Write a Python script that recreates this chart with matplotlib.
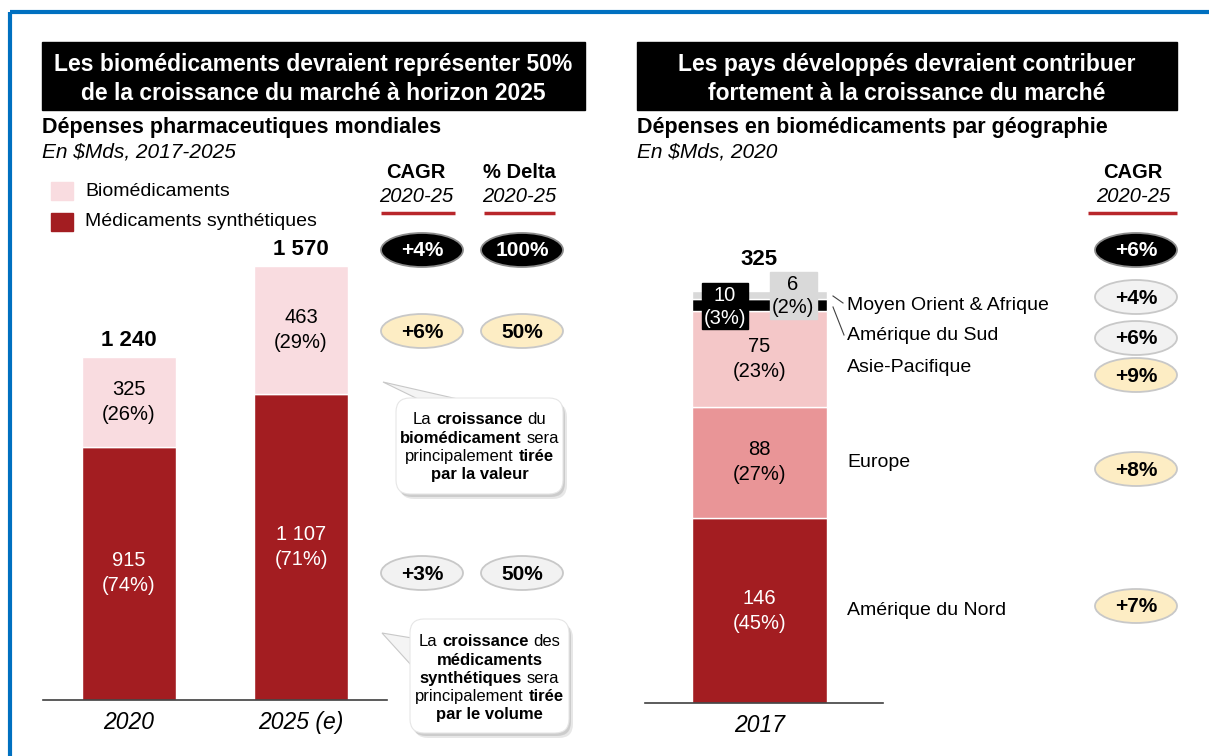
import matplotlib
matplotlib.use("Agg")
import matplotlib.pyplot as plt
from matplotlib.patches import Ellipse, FancyBboxPatch, Polygon, Rectangle
from matplotlib.transforms import blended_transform_factory

plt.rcParams["font.family"] = ["Liberation Sans", "DejaVu Sans"]

# left chart: world pharma spend, $bn
years = ["2020", "2025 (e)"]
synth = [915, 1107]
bio = [325, 463]
synth_pct = [74, 71]
bio_pct = [26, 29]
left_cagr = ["+4%", "+6%", "+3%"]
left_delta = ["100%", "50%", "50%"]

# right chart: biologics spend by region, $bn
region_year = ["2017"]
regions = ["Amérique du Nord", "Europe", "Asie-Pacifique", "Amérique du Sud", "Moyen Orient & Afrique"]
region_val = [146, 88, 75, 10, 6]
region_pct = [45, 27, 23, 3, 2]
right_cagr = ["+6%", "+4%", "+6%", "+9%", "+8%", "+7%"]

DARK_RED = "#A31D21"
BIO_PINK = "#F9DCE0"
region_colors = [DARK_RED, "#E99597", "#F4C7C8", "#000000", "#D9D9D9"]
YELLOW = "#FDEDC4"
LIGHT = "#F2F2F2"

W, H = 1209, 756
fig = plt.figure(figsize=(W / 100, H / 100), dpi=100)

# --- bar axes (pixel-placed) ---
ax1 = fig.add_axes([43 / W, (H - 700) / H, 344 / W, 500 / H])
ax1.set_xlim(-0.5, 1.5)
ax1.set_ylim(0, 500 / 0.2766)
x1 = range(len(years))
ax1.bar(x1, synth, width=0.547, color=DARK_RED, edgecolor="white", linewidth=1)
ax1.bar(x1, bio, bottom=synth, width=0.547, color=BIO_PINK, edgecolor="white", linewidth=1)
for i in x1:
    ax1.text(i, synth[i] / 2, f"{synth[i]:,}".replace(",", " ") + f"\n({synth_pct[i]}%)",
             ha="center", va="center", color="white", fontsize=14.5, linespacing=1.4)
    ax1.text(i, synth[i] + bio[i] / 2, f"{bio[i]}\n({bio_pct[i]}%)",
             ha="center", va="center", color="black", fontsize=14.5, linespacing=1.4)
    total = synth[i] + bio[i]
    ax1.annotate(f"{total:,}".replace(",", " "), (i, total), xytext=(0, 12), textcoords="offset points",
                 ha="center", va="center", fontsize=16, fontweight="bold")
ax1.set_xticks(list(x1), years, fontsize=16.5, fontstyle="italic")

ax2 = fig.add_axes([645 / W, (H - 703) / H, 238 / W, 450 / H])
ax2.set_xlim(-0.848, 0.915)
ax2.set_ylim(0, 450 / 1.267)
bottom = 0
seg_mid = []
for v, c in zip(region_val, region_colors):
    ax2.bar(0, v, bottom=bottom, width=1, color=c, edgecolor="white", linewidth=1)
    seg_mid.append(bottom + v / 2)
    bottom += v
for i in range(3):
    ax2.text(0, seg_mid[i], f"{region_val[i]}\n({region_pct[i]}%)", ha="center", va="center",
             color="white" if i == 0 else "black", fontsize=14.5, linespacing=1.4)
ax2.annotate(str(sum(region_val)), (0, bottom), xytext=(0, 23), textcoords="offset points",
             ha="center", va="center", fontsize=16, fontweight="bold")
ax2.set_xticks([0], region_year, fontsize=16.5, fontstyle="italic")

for ax in (ax1, ax2):
    for s in ("top", "right", "left"):
        ax.spines[s].set_visible(False)
    ax.spines["bottom"].set_color("#404040")
    ax.spines["bottom"].set_linewidth(1.2)
    ax.set_yticks([])
    ax.tick_params(axis="x", length=0, pad=8)

# --- overlay in pixel coordinates ---
ov = fig.add_axes([0, 0, 1, 1], zorder=5)
ov.set_xlim(0, W)
ov.set_ylim(H, 0)
ov.axis("off")
renderer = fig.canvas.get_renderer()

ov.plot([10, W], [12, 12], color="#0070C0", lw=3, solid_capstyle="butt")
ov.plot([10, 10], [12, H], color="#0070C0", lw=3, solid_capstyle="butt")

# title boxes
for x0, x1_, lines in [(42, 585, ["Les biomédicaments devraient représenter 50%",
                                   "de la croissance du marché à horizon 2025"]),
                       (637, 1177, ["Les pays développés devraient contribuer",
                                    "fortement à la croissance du marché"])]:
    ov.add_patch(Rectangle((x0, 42), x1_ - x0, 68, color="black"))
    for ly, txt in zip((64, 93), lines):
        ov.text((x0 + x1_) / 2, ly, txt, color="white", fontsize=16.5, fontweight="bold",
                ha="center", va="center")

ov.text(42, 128, "Dépenses pharmaceutiques mondiales", fontsize=15.5, fontweight="bold", va="center")
ov.text(42, 152, "En $Mds, 2017-2025", fontsize=15, fontstyle="italic", va="center")
ov.text(637, 128, "Dépenses en biomédicaments par géographie", fontsize=15.5, fontweight="bold", va="center")
ov.text(637, 152, "En $Mds, 2020", fontsize=15, fontstyle="italic", va="center")

# legend
ov.add_patch(Rectangle((51, 182), 22, 18, color=BIO_PINK))
ov.add_patch(Rectangle((51, 213), 22, 18, color=DARK_RED))
ov.text(85, 192, "Biomédicaments", fontsize=14, va="center")
ov.text(85, 222, "Médicaments synthétiques", fontsize=14, va="center")


def header(cx, title, x_a, x_b):
    ov.text(cx, 173, title, fontsize=14.5, fontweight="bold", ha="center", va="center")
    ov.text(cx, 196, "2020-25", fontsize=14.5, fontstyle="italic", ha="center", va="center")
    ov.plot([x_a, x_b], [213, 213], color="#B8262B", lw=2.5, solid_capstyle="butt")


def pill(cx, cy, label, style):
    face, edge, tcol = {"dark": ("black", "#8C8C8C", "white"),
                        "yellow": (YELLOW, "#C8C8C8", "black"),
                        "light": (LIGHT, "#C8C8C8", "black")}[style]
    ov.add_patch(Ellipse((cx, cy), 82, 34, facecolor=face, edgecolor=edge, lw=1.3, zorder=6))
    ov.text(cx, cy + 1, label, color=tcol, fontsize=15, fontweight="bold",
            ha="center", va="center", zorder=7)


header(416, "CAGR", 381, 455)
header(519, "% Delta", 484, 555)
header(1133, "CAGR", 1088, 1177)

left_rows = [250, 331, 573]
left_styles = ["dark", "yellow", "light"]
for cy, st, a, b in zip(left_rows, left_styles, left_cagr, left_delta):
    pill(422, cy, a, st)
    pill(522, cy, b, st)

right_rows = [250, 297, 338, 375, 469, 606]
right_styles = ["dark", "light", "light", "yellow", "yellow", "yellow"]
for cy, st, a in zip(right_rows, right_styles, right_cagr):
    pill(1136, cy, a, st)

# small-segment labels on the right bar
ov.add_patch(Rectangle((702, 283), 46, 46, color="black", zorder=6))
ov.text(725, 307, f"{region_val[3]}\n({region_pct[3]}%)", color="white", fontsize=14.5,
        ha="center", va="center", linespacing=1.3, zorder=7)
ov.add_patch(Rectangle((770, 272), 47, 47, color="#D9D9D9", zorder=6))
ov.text(793, 296, f"{region_val[4]}\n({region_pct[4]}%)", color="black", fontsize=14.5,
        ha="center", va="center", linespacing=1.3, zorder=7)

# region names
mix = blended_transform_factory(ov.transData, ax2.transData)
ov.text(847, seg_mid[0], regions[0], transform=mix, fontsize=14, va="center")
ov.text(847, seg_mid[1], regions[1], transform=mix, fontsize=14, va="center")
ov.text(847, 367, regions[2], fontsize=14, va="center")
ov.text(847, 336, regions[3], fontsize=14, va="center")
ov.text(847, 305, regions[4], fontsize=14, va="center")
ov.plot([833, 843], [296, 303], color="#404040", lw=0.8)
ov.plot([833, 844], [307, 335], color="#404040", lw=0.8)


# callouts
def rich_line(cx, y, parts, size=12):
    arts = [ov.text(0, y, s, fontsize=size, fontweight="bold" if b else "normal",
                    ha="left", va="baseline", zorder=9) for s, b in parts]
    t1 = ov.text(0, 0, "x x", fontsize=size)
    t2 = ov.text(0, 0, "xx", fontsize=size)
    space = t1.get_window_extent(renderer).width - t2.get_window_extent(renderer).width
    t1.remove(); t2.remove()
    widths = [a.get_window_extent(renderer).width for a in arts]
    x = cx - (sum(widths) + space * (len(arts) - 1)) / 2
    for a, w in zip(arts, widths):
        a.set_x(x)
        x += w + space


def callout(x0, y0, x1_, y1_, tail, lines, first_y):
    for dx, dy, al in [(4, 5, 0.18), (2, 3, 0.25)]:
        ov.add_patch(FancyBboxPatch((x0 + dx, y0 + dy), x1_ - x0, y1_ - y0,
                                    boxstyle="round,pad=0,rounding_size=14",
                                    facecolor="#7F7F7F", edgecolor="none", alpha=al, zorder=6))
    ov.add_patch(Polygon(tail, closed=True, facecolor="#F4F4F4", edgecolor="#C8C8C8", lw=0.8, zorder=6))
    ov.add_patch(FancyBboxPatch((x0, y0), x1_ - x0, y1_ - y0,
                                boxstyle="round,pad=0,rounding_size=14",
                                facecolor="white", edgecolor="#E6E6E6", lw=0.8, zorder=7))
    for k, parts in enumerate(lines):
        rich_line((x0 + x1_) / 2, first_y + 18.2 * k + 4.5, parts)


callout(396, 398, 563, 494, [(383, 382), (420, 400), (462, 400)],
        [[("La", 0), ("croissance", 1), ("du", 0)],
         [("biomédicament", 1), ("sera", 0)],
         [("principalement", 0), ("tirée", 1)],
         [("par la valeur", 1)]], 420)
callout(410, 619, 569, 733, [(382, 633), (412, 638), (412, 666)],
        [[("La", 0), ("croissance", 1), ("des", 0)],
         [("médicaments", 1)],
         [("synthétiques", 1), ("sera", 0)],
         [("principalement", 0), ("tirée", 1)],
         [("par le volume", 1)]], 642)

fig.savefig("out.png", dpi=100)
